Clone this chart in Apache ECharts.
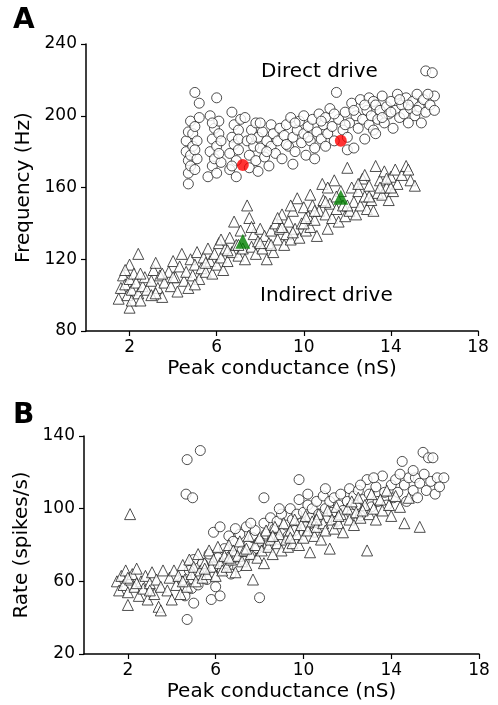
<!DOCTYPE html>
<html>
<head>
<meta charset="utf-8">
<script src="https://cdn.jsdelivr.net/npm/echarts@6/dist/echarts.min.js"></script>
<style>
  html, body { margin: 0; padding: 0; background: #fff; }
  #myChart { width: 498px; height: 705px; }
</style>
</head>
<body>
<div id="myChart"></div>
<script>
// tick labels
var xTicks = [2, 6, 10, 14, 18];
var freqTicks = [80, 120, 160, 200, 240];
var rateTicks = [20, 60, 100, 140];

// panel A - frequency vs peak conductance
var directFreq = [
	[4.6,180],[4.6,186],[4.7,162],[4.7,168],[4.7,175],[4.7,191],[4.8,178],[4.8,197],[4.9,183],[4.9,190],[4.8,172],
	[5.0,170],[5.0,213],[5.0,194],[5.1,186],[5.1,176],[5.2,207],[5.2,199],[5.0,181],
	[5.6,166],[5.7,200],[5.7,180],[5.8,172],[5.8,187],[5.9,176],[5.9,193],[6.0,210],[6.0,168],[6.0,183],[6.1,197],[6.1,190],
	[6.2,174],[6.2,186],[5.8,196],[6.1,179],
	[6.6,170],[6.6,179],[6.7,202],[6.7,188],[6.8,184],[6.8,195],[6.9,166],[6.9,175],[7.0,192],[7.0,181],[7.1,198],[6.7,172],[7.0,187],
	[7.3,199],[7.4,186],[7.5,178],[7.5,171],[7.6,192],[7.7,183],[7.8,175],[7.8,196],[7.9,188],[7.9,169],[8.0,182],[7.6,187],
	[8.1,191],[8.2,177],[8.3,186],[8.4,172],[8.5,195],[8.5,183],[8.6,190],[8.7,179],[8.8,186],[8.9,193],[8.0,196],[8.3,180],
	[9.0,176],[9.1,189],[9.2,195],[9.3,183],[9.4,199],[9.5,188],[9.6,180],[9.7,192],[9.8,197],[9.9,185],[10.0,190],[10.0,200],
	[9.2,184],[9.6,196],[9.5,173],
	[10.1,178],[10.2,194],[10.3,186],[10.4,198],[10.5,182],[10.6,191],[10.7,201],[10.8,187],[10.9,195],[11.0,183],[11.0,199],
	[10.2,188],[10.8,197],[10.5,176],
	[11.1,190],[11.2,204],[11.3,194],[11.4,186],[11.5,213],[11.6,198],[11.8,192],[11.9,202],[12.0,188],[12.1,196],[12.2,207],
	[11.4,201],[11.9,195],[12.0,181],
	[12.3,182],[12.4,200],[12.5,193],[12.6,209],[12.7,198],[12.8,187],[12.9,203],[13.0,195],[13.0,210],[13.1,200],[13.2,192],
	[12.3,203],[12.8,206],[13.2,208],[13.3,190],
	[13.3,206],[13.4,198],[13.5,203],[13.6,211],[13.7,196],[13.8,205],[13.9,201],[14.0,208],[14.1,193],[14.2,203],[14.3,212],
	[13.6,199],[14.0,202],
	[14.4,199],[14.5,206],[14.6,201],[14.7,210],[14.8,196],[14.9,204],[15.0,208],[15.1,200],[15.2,212],[15.3,205],[15.4,196],
	[14.4,209],[14.8,206],[15.2,203],
	[15.5,209],[15.6,225],[15.6,202],[15.8,206],[15.9,224],[16.0,203],[16.0,211],[15.7,212]
];
var indirectFreq = [
	[1.5,98],[1.6,104],[1.7,111],[1.8,106],[1.9,100],[2.0,93],[2.0,117],[2.0,109],[2.1,103],[2.1,97],[2.2,112],[2.3,107],
	[2.4,123],[2.4,101],[2.5,97],[2.6,105],[2.7,110],[2.8,103],[3.0,108],[3.0,100],[3.1,114],[3.2,118],[3.3,104],[3.4,111],
	[3.5,99],[3.6,107],[3.8,113],[3.9,105],[4.0,119],[4.1,110],[4.2,102],[4.3,116],[4.4,123],[4.5,108],[4.6,113],[4.7,104],
	[4.8,120],[4.9,111],[5.0,117],[5.1,124],[5.2,109],[5.3,115],[5.4,121],[5.5,113],[5.6,126],[5.7,119],[5.8,112],[5.9,123],
	[6.0,117],[6.1,129],[6.2,121],[6.3,114],[6.4,126],[6.5,119],[6.6,132],[6.7,124],[6.8,141],[6.9,128],[7.0,122],[7.1,136],
	[7.2,126],[7.3,120],[7.4,150],[7.5,143],[7.6,127],[7.7,134],[7.8,123],[7.9,130],[8.0,137],[8.1,126],[8.2,133],[8.3,120],
	[8.4,129],[8.5,136],[8.6,124],[8.7,140],[8.8,131],[8.9,137],[9.0,145],[9.1,128],[9.2,134],[9.3,141],[9.4,131],[9.5,147],
	[9.6,137],[9.7,154],[9.8,132],[9.9,140],[10.0,149],[10.1,136],[10.2,144],[10.3,138],[10.4,150],[10.5,142],[10.6,133],
	[10.7,147],[10.85,162],[10.9,153],[11.0,145],[11.1,137],[11.2,151],[11.3,143],[11.4,164],[11.5,148],[11.6,141],[11.7,158],
	[11.8,150],[11.9,144],[12.0,171],[12.1,147],[12.2,160],[12.3,152],[12.4,145],[12.5,158],[12.6,150],[12.7,165],[12.8,155],
	[12.9,148],[13.0,161],[13.1,153],[13.2,147],[13.3,172],[13.4,157],[13.5,164],[13.6,156],[13.7,169],[13.8,160],[13.9,153],
	[14.0,166],[14.1,158],[14.2,170],[14.3,162],[14.5,167],[14.7,172],[14.8,170],[14.9,164],[15.1,161],
	[8.0,129],[8.5,128],[9.0,138],[9.5,135],[10.0,140],[10.5,147],[11.0,152],[11.5,155],[12.0,150],[12.5,162],[13.0,155],
	[13.5,160],[14.0,160],[6.5,125],[7.0,128],[5.5,118],[4.0,110],[3.5,112],[2.5,112],[1.8,114],[9.4,150],[10.3,156],
	[11.1,160],[12.8,167],[13.8,165],[6.2,131],[5.0,106],[3.2,101],[7.6,138],[8.8,143],[10.1,143]
];
var exampleDirect = [[7.2,172.5],[11.7,186]];
var exampleIndirect = [[7.2,130],[11.7,154.5]];

// panel B - firing rate vs peak conductance
var directRate = [
	[4.5,60],[4.6,52],[4.7,39],[4.7,127],[4.65,108],[4.8,66],[4.9,56],[5.0,48],[4.95,106],[5.0,72],[5.1,63],[5.2,58],[5.3,132],
	[5.4,70],[5.5,65],[5.6,61],[5.7,75],[5.8,50],[5.9,87],[5.9,68],[6.0,57],[6.1,73],[6.2,90],[6.2,52],[6.3,66],[6.4,78],
	[6.5,70],[6.6,85],[6.7,64],[6.8,82],[6.9,74],[7.0,68],[7.1,86],[7.2,77],[7.3,71],[7.4,90],[7.5,80],[7.6,75],[7.7,84],
	[7.8,88],[7.9,78],[8.0,51],[8.0,82],[8.2,106],[8.2,92],[8.3,86],[8.4,80],[8.5,95],[8.6,84],[8.7,89],[8.8,93],[8.9,83],
	[9.0,97],[9.1,87],[9.2,91],[9.3,85],[9.4,100],[9.5,94],[9.6,88],[9.7,97],[9.8,116],[9.8,105],[9.9,92],[10.0,98],[10.1,90],
	[10.2,102],[10.3,95],[10.4,100],[10.5,87],[10.6,104],[10.7,97],[10.9,107],[11.0,100],[11.1,95],[11.2,104],
	[11.3,98],[11.4,106],[11.5,93],[11.6,102],[11.7,108],[11.8,99],[12.0,104],[12.1,111],[12.2,97],[12.3,107],[12.4,102],
	[12.5,110],[12.6,96],[12.7,105],[12.9,116],[13.0,108],[13.1,101],[13.3,112],[13.4,104],[13.6,118],[13.7,109],[13.8,102],
	[14.0,113],[14.1,106],[14.2,116],[14.3,109],[14.5,126],[14.6,113],[14.7,104],[14.8,117],[15.0,110],[15.1,117],[15.2,106],
	[15.3,114],[15.45,131],[15.5,119],[15.6,110],[15.7,128],[15.8,115],[15.9,128],[16.0,108],[16.1,117],[16.4,117],
	[6.9,89],[7.6,92],[8.9,100],[10.2,108],[11.0,111],[12.6,113],[13.2,117],[14.4,119],[15.0,121],[16.2,112]
];
var indirectRate = [
	[1.5,60],[1.6,55],[1.7,63],[1.8,58],[1.9,66],[2.0,47],[2.0,54],[2.1,97],[2.1,61],[2.2,64],[2.3,57],[2.4,67],[2.5,52],
	[2.6,60],[2.7,56],[2.8,63],[2.9,50],[3.0,59],[3.1,65],[3.2,53],[3.3,61],[3.4,46],[3.5,44],[3.5,57],[3.6,66],[3.8,55],
	[3.9,62],[4.0,50],[4.1,66],[4.2,58],[4.3,63],[4.4,53],[4.5,69],[4.6,61],[4.7,57],[4.8,72],[4.9,64],[5.0,68],[5.1,60],
	[5.2,75],[5.3,66],[5.4,62],[5.5,70],[5.6,64],[5.7,77],[5.8,68],[5.9,72],[6.0,63],[6.1,79],[6.2,70],[6.3,66],[6.4,74],
	[6.5,68],[6.6,80],[6.7,72],[6.8,77],[6.9,65],[7.0,74],[7.1,82],[7.2,71],[7.3,77],[7.4,69],[7.5,85],[7.6,75],[7.7,61],
	[7.8,80],[7.9,73],[8.0,84],[8.1,77],[8.2,70],[8.3,88],[8.4,79],[8.5,83],[8.6,75],[8.7,90],[8.8,81],[8.9,86],[9.0,77],
	[9.1,92],[9.2,83],[9.3,79],[9.4,88],[9.5,81],[9.6,94],[9.7,86],[9.8,80],[9.9,91],[10.0,84],[10.1,96],[10.2,88],[10.3,76],
	[10.4,93],[10.5,85],[10.6,90],[10.7,97],[10.8,83],[10.9,92],[11.0,88],[11.1,99],[11.2,78],[11.3,94],[11.4,89],[11.5,101],
	[11.6,92],[11.7,97],[11.8,87],[12.0,100],[12.1,94],[12.2,104],[12.3,91],[12.4,98],[12.5,106],[12.6,95],[12.8,102],
	[12.9,77],[13.0,97],[13.1,108],[13.2,100],[13.3,94],[13.5,105],[13.6,99],[13.8,110],[13.9,102],[14.0,96],[14.2,107],
	[14.4,101],[14.6,92],[14.8,106],[15.3,90],
	[2.0,62],[2.4,59],[3.0,55],[4.5,60],[5.5,67],[6.6,73],[7.4,78],[8.6,85],[9.4,84],[10.6,94],[11.6,96],[12.7,99]
];

var myChart = echarts.init(document.getElementById('myChart'));

var font = 'DejaVu Sans';

function makeX(idx) {
	return {
		gridIndex: idx, type: 'value', min: 0, max: 18,
		name: 'Peak conductance (nS)', nameLocation: 'middle', nameGap: 28,
		nameTextStyle: { fontFamily: font, fontSize: 20, color: '#000' },
		axisLine: { show: true, onZero: false, lineStyle: { color: '#000', width: 1.5 } },
		axisTick: { show: true, length: 5, customValues: xTicks, lineStyle: { color: '#000', width: 1.2 } },
		axisLabel: { customValues: xTicks, fontFamily: font, fontSize: 17, color: '#000', margin: 8 },
		splitLine: { show: false }
	};
}
function makeY(idx, name, lo, hi, ticks) {
	return {
		gridIndex: idx, type: 'value', min: lo, max: hi,
		name: name, nameLocation: 'middle', nameGap: 48,
		nameTextStyle: { fontFamily: font, fontSize: 20, color: '#000' },
		axisLine: { show: true, onZero: false, lineStyle: { color: '#000', width: 1.5 } },
		axisTick: { show: true, length: 5, customValues: ticks, lineStyle: { color: '#000', width: 1.2 } },
		axisLabel: { customValues: ticks, fontFamily: font, fontSize: 17, color: '#000', margin: 9 },
		splitLine: { show: false }
	};
}
function openSeries(name, xi, shape, size, data) {
	return {
		name: name, type: 'scatter', xAxisIndex: xi, yAxisIndex: xi,
		symbol: shape, symbolSize: size, data: data, silent: true,
		itemStyle: { color: '#fff', borderColor: '#222', borderWidth: 1 }
	};
}

var option = {
	animation: false,
	grid: [
		{ left: 86, right: 20, top: 44, bottom: 374 },
		{ left: 84, right: 19, top: 436, bottom: 51 }
	],
	xAxis: [makeX(0), makeX(1)],
	yAxis: [
		makeY(0, 'Frequency (Hz)', 80, 240, freqTicks),
		makeY(1, 'Rate (spikes/s)', 20, 140, rateTicks)
	],
	graphic: [
		{ type: 'text', left: 13, top: 7, style: { text: 'A', font: 'bold 28px "DejaVu Sans"', fill: '#000' } },
		{ type: 'text', left: 13, top: 402, style: { text: 'B', font: 'bold 28px "DejaVu Sans"', fill: '#000' } },
		{ type: 'text', left: 261, top: 62, style: { text: 'Direct drive', font: '20px "DejaVu Sans"', fill: '#000' } },
		{ type: 'text', left: 260, top: 286, style: { text: 'Indirect drive', font: '20px "DejaVu Sans"', fill: '#000' } }
	],
	series: [
		openSeries('direct A', 0, 'circle', 10, directFreq),
		openSeries('indirect A', 0, 'triangle', 11, indirectFreq),
		{ name: 'example direct', type: 'scatter', xAxisIndex: 0, yAxisIndex: 0, symbol: 'circle', symbolSize: 12,
		  data: exampleDirect, itemStyle: { color: '#ff0000' }, z: 5 },
		{ name: 'example indirect', type: 'scatter', xAxisIndex: 0, yAxisIndex: 0, symbol: 'triangle', symbolSize: 15,
		  data: exampleIndirect, itemStyle: { color: '#008000' }, z: 5 },
		openSeries('direct B', 1, 'circle', 10, directRate),
		openSeries('indirect B', 1, 'triangle', 11, indirectRate)
	]
};

myChart.setOption(option);
</script>
</body>
</html>
